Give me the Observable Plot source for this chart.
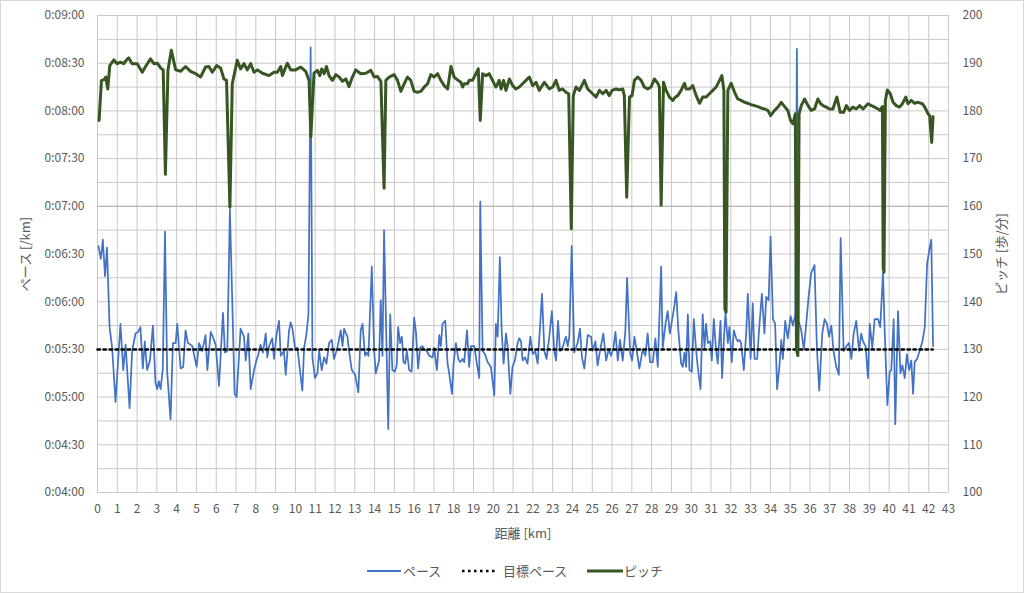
<!DOCTYPE html>
<html><head><meta charset="utf-8">
<script src="https://cdn.jsdelivr.net/npm/d3@7"></script>
<script src="https://cdn.jsdelivr.net/npm/@observablehq/plot@0.6"></script>
<style>
body{margin:0;background:#fff;}
#wrap{position:relative;width:1024px;height:593px;font-family:"Noto Sans CJK JP","Noto Sans",sans-serif;color:#595959;overflow:hidden;background:#fff;}
#chart{position:absolute;left:0;top:0;}
#border{position:absolute;left:0;top:0;width:1024px;height:593px;box-sizing:border-box;border:1px solid #d9d9d9;pointer-events:none;}
.lg{position:absolute;top:561px;height:20px;line-height:20px;font-size:13px;color:#595959;white-space:nowrap;}
.lg svg{display:block;}
</style>
</head><body>
<div id="wrap">
  <div id="chart"></div>
  <div class="lg" style="left:367px"><svg width="34" height="20"><line x1="0" y1="10" x2="34" y2="10" stroke="#4472C4" stroke-width="2"/></svg></div>
  <div class="lg" style="left:403px">ペース</div>
  <div class="lg" style="left:461px"><svg width="36" height="20"><line x1="1" y1="10" x2="35" y2="10" stroke="#000" stroke-width="2.5" stroke-dasharray="2.5,3.5"/></svg></div>
  <div class="lg" style="left:503px">目標ペース</div>
  <div class="lg" style="left:587px"><svg width="36" height="20"><line x1="0" y1="10" x2="36" y2="10" stroke="#375623" stroke-width="3"/></svg></div>
  <div class="lg" style="left:624px">ピッチ</div>
  <div id="border"></div>
</div>
<script>
// ---- data (distance km, pace in seconds per km) ----
const paceKm = [0.05,0.17,0.27,0.38,0.48,0.61,0.74,0.91,1.16,1.30,1.42,1.62,1.75,1.92,2.05,2.17,2.29,2.39,2.51,2.65,2.80,2.93,3.02,3.10,3.19,3.30,3.41,3.52,3.69,3.81,3.95,4.03,4.20,4.33,4.45,4.57,4.70,4.79,5.01,5.13,5.29,5.46,5.55,5.72,5.85,5.97,6.14,6.34,6.44,6.56,6.69,6.93,7.03,7.23,7.40,7.49,7.62,7.74,7.91,8.03,8.13,8.24,8.36,8.50,8.58,8.67,8.83,8.92,9.04,9.17,9.26,9.42,9.51,9.68,9.76,9.85,9.98,10.10,10.22,10.35,10.44,10.55,10.66,10.77,10.86,10.99,11.11,11.20,11.33,11.45,11.57,11.70,11.84,11.95,12.12,12.29,12.38,12.46,12.63,12.71,12.85,13.02,13.18,13.30,13.39,13.52,13.59,13.69,13.86,13.98,14.06,14.23,14.31,14.40,14.48,14.69,14.79,14.90,15.02,15.12,15.19,15.29,15.38,15.46,15.55,15.63,15.75,15.87,16.00,16.09,16.20,16.30,16.42,16.51,16.64,16.76,16.93,17.01,17.15,17.27,17.35,17.43,17.57,17.69,17.77,17.91,17.99,18.11,18.23,18.33,18.45,18.53,18.67,18.78,18.87,19.04,19.17,19.29,19.34,19.46,19.58,19.71,19.88,20.05,20.13,20.22,20.33,20.42,20.52,20.64,20.72,20.86,20.97,21.09,21.23,21.31,21.40,21.48,21.60,21.73,21.87,21.99,22.12,22.24,22.36,22.46,22.58,22.69,22.83,22.96,23.08,23.17,23.27,23.37,23.47,23.59,23.67,23.76,23.84,23.96,24.09,24.26,24.38,24.48,24.60,24.77,24.94,25.02,25.16,25.27,25.39,25.56,25.70,25.83,25.95,26.07,26.17,26.29,26.40,26.54,26.67,26.76,26.91,27.01,27.13,27.25,27.38,27.55,27.68,27.80,27.92,28.06,28.19,28.31,28.48,28.56,28.70,28.81,28.92,29.12,29.24,29.35,29.49,29.57,29.66,29.74,29.83,29.91,30.03,30.13,30.25,30.33,30.47,30.58,30.67,30.75,30.84,30.96,31.04,31.14,31.26,31.34,31.48,31.56,31.65,31.73,31.85,31.93,32.05,32.15,32.27,32.35,32.44,32.52,32.66,32.78,32.86,33.00,33.11,33.20,33.33,33.45,33.57,33.70,33.79,33.91,34.01,34.13,34.24,34.34,34.46,34.55,34.63,34.75,34.88,35.02,35.14,35.26,35.34,35.42,35.56,35.69,35.81,35.93,36.06,36.23,36.35,36.47,36.62,36.74,36.86,36.96,37.08,37.19,37.33,37.46,37.55,37.70,37.84,37.97,38.09,38.21,38.34,38.48,38.59,38.68,38.81,38.93,39.02,39.15,39.27,39.44,39.55,39.69,39.77,39.91,40.03,40.11,40.23,40.31,40.45,40.57,40.67,40.79,40.90,41.01,41.12,41.21,41.29,41.41,41.54,41.68,41.80,41.92,42.05,42.13,42.22];
const paceSec = [395,387,399,376,394,344,331,297,346,317,333,293,329,340,341,344,318,335,317,323,345,309,305,310,305,318,404,316,286,334,334,346,318,319,342,334,333,332,319,334,329,339,317,341,337,333,307,353,328,329,418,302,300,343,338,323,340,305,317,323,327,333,328,340,325,332,337,324,339,348,326,329,314,342,347,343,331,331,318,304,331,339,352,520,325,312,315,329,317,325,321,334,336,324,331,342,332,343,338,329,317,314,303,342,346,326,328,326,382,329,315,323,361,326,405,280,352,317,316,320,344,334,338,322,321,329,317,316,350,341,318,331,332,330,329,326,325,331,317,339,332,346,348,321,315,302,321,334,324,322,324,322,342,319,332,332,321,312,423,329,327,322,319,301,346,338,388,342,321,340,332,302,319,323,334,337,335,323,325,321,338,327,329,321,344,365,329,324,338,354,329,323,348,329,330,335,338,332,338,395,328,334,343,325,318,339,338,329,335,320,329,340,323,330,326,331,341,323,336,323,341,375,328,323,338,329,318,330,326,340,322,322,337,319,382,331,346,354,340,355,366,342,321,319,328,319,352,317,316,349,329,319,305,352,331,346,334,335,323,349,329,321,348,312,336,353,334,344,322,342,337,335,336,334,317,341,365,324,359,324,324,346,365,340,363,361,401,349,346,305,320,336,324,348,337,351,345,352,519,348,342,330,346,363,378,383,331,304,340,349,346,338,345,329,319,314,400,329,332,334,324,340,348,329,340,335,332,312,346,331,349,349,344,378,344,295,316,317,349,283,354,315,320,312,327,317,323,302,322,324,329,335,344,384,394,399,332];

// ---- data (distance km, pitch steps per minute) ----
const pitchKm = [0.08,0.20,0.32,0.42,0.52,0.62,0.83,0.99,1.16,1.33,1.47,1.58,1.75,2.01,2.26,2.43,2.68,2.85,3.02,3.19,3.32,3.43,3.56,3.73,3.95,4.20,4.45,4.70,4.96,5.21,5.46,5.63,5.80,6.02,6.22,6.39,6.52,6.69,6.81,7.06,7.23,7.40,7.57,7.74,7.91,8.08,8.33,8.67,8.92,9.09,9.26,9.34,9.59,9.76,10.01,10.27,10.52,10.69,10.78,10.94,11.11,11.23,11.33,11.45,11.57,11.70,11.87,12.04,12.21,12.38,12.55,12.71,12.88,13.05,13.30,13.56,13.81,13.98,14.15,14.32,14.48,14.57,14.74,14.99,15.16,15.33,15.50,15.66,15.83,16.00,16.17,16.34,16.51,16.68,16.84,17.01,17.18,17.35,17.52,17.69,17.86,18.02,18.19,18.36,18.45,18.53,18.70,18.78,18.95,19.12,19.24,19.34,19.46,19.63,19.79,19.96,20.13,20.30,20.39,20.52,20.64,20.81,20.98,21.14,21.31,21.48,21.65,21.82,21.99,22.16,22.32,22.58,22.83,23.00,23.17,23.33,23.50,23.67,23.81,23.94,24.04,24.18,24.35,24.60,24.77,25.02,25.19,25.36,25.53,25.70,25.86,26.00,26.20,26.37,26.54,26.62,26.74,26.88,27.01,27.13,27.30,27.47,27.63,27.80,27.97,28.14,28.31,28.39,28.48,28.60,28.73,28.90,29.07,29.20,29.32,29.49,29.66,29.74,29.91,30.08,30.25,30.42,30.58,30.75,30.92,31.09,31.26,31.43,31.55,31.65,31.70,31.76,31.85,32.02,32.19,32.35,32.52,32.69,32.86,33.03,33.20,33.37,33.54,33.70,33.87,34.01,34.21,34.38,34.55,34.72,34.88,35.02,35.14,35.26,35.32,35.39,35.45,35.56,35.73,35.90,36.06,36.23,36.40,36.54,36.66,36.82,36.99,37.16,37.36,37.53,37.70,37.84,38.00,38.17,38.34,38.51,38.68,38.93,39.10,39.27,39.44,39.55,39.66,39.70,39.74,39.81,39.91,40.06,40.20,40.36,40.53,40.67,40.84,40.95,41.12,41.29,41.46,41.68,41.80,41.97,42.05,42.15,42.22];
const pitchSpm = [178,186.4,186.5,187.1,184.6,189.5,190.7,189.9,190.2,189.9,190.7,191.1,189.9,189.9,188.1,189.3,190.9,189.9,190,189,188.6,166.7,188.5,192.7,188.6,188.3,189.3,188.3,187.8,187.1,189.2,189.3,188.1,189.5,189,186.7,186.4,159.8,185.7,190.6,188.8,189.9,188.6,189.9,188.1,188.6,187.9,187.4,188.1,188.1,189.3,187.4,190,188.6,188.6,189.2,188.3,186.4,174.6,187.9,188.5,187.4,188.8,187.8,189.3,187.4,186.4,187.6,187.1,186.2,186.7,185.1,187.1,188.6,187.8,187.9,188.5,187.1,187.2,186.2,163.8,186.4,187.1,187.6,186.4,184.1,185.7,187.1,186.4,184.1,183.9,184.1,185,185.7,187.6,187.1,187.8,186.4,185.3,184.6,189.3,187.1,186.5,186,185,185.7,185.7,186.4,186.4,187.8,188.8,178,187.8,187.4,187.8,186.4,185,186.4,184.6,186.4,184.3,186.7,185.3,184.6,185,185.7,186.4,187.1,185.3,186,184.3,186,184.6,185,186.4,184.3,184.6,183.9,183.6,155.3,183.2,185,184.3,186.4,184.6,183.6,182.9,184.3,183.6,184.3,183.2,184.3,184.6,184.4,184.6,183.2,161.9,182.9,183.2,186.4,187.1,186.4,185,184.6,185,186.7,185.8,185,160.2,186,184.3,182.9,182.2,182.9,183.2,184.3,185.8,184.6,184.6,185.3,183.2,181.6,182.9,182.9,183.6,184.3,185,186.4,187.4,184.3,138.5,137.8,184.3,185.8,183.9,182.5,182.2,181.8,181.6,181.3,181.1,180.9,180.6,180.4,180.1,179,180.1,180.8,181.8,180.9,180.1,178,177.3,179.4,130,128.7,179.4,181.1,182.5,181.1,180.1,180.4,182.5,181.5,181.1,180.8,180.4,180.4,182.9,179.7,179.7,181.1,180.1,180.8,180.4,181.1,180.4,181.5,181.1,180.8,180.4,180.1,180.9,147,146.2,182.2,184.4,183.6,181.8,181.1,180.8,181.5,182.9,181.5,182.2,181.6,181.8,181.5,180.8,179.4,179,173.4,178.8];

// ---- target pace (5:30 /km) ----
const targetKm = [0, 42.2];
const targetSec = [330, 330];

// ---- ticks ----
const xTicks = d3.range(0, 44);
const paceTicks = [240, 270, 300, 330, 360, 390, 420, 450, 480, 510, 540];
const pitchTicks = [100, 110, 120, 130, 140, 150, 160, 170, 180, 190, 200];
const gridSec = d3.range(240, 541, 15);

// pitch (100-200) shares the pace scale (240-540 s)
const pitchToSec = p => 240 + (p - 100) * 3;
const secToPitch = s => 100 + (s - 240) / 3;
const fmtPace = s => `0:${String(Math.floor(s / 60)).padStart(2, "0")}:${String(s % 60).padStart(2, "0")}`;

const pace = paceKm.map((km, i) => ({km, sec: paceSec[i]}));
const pitch = pitchKm.map((km, i) => ({km, spm: pitchSpm[i]}));
const target = targetKm.map((km, i) => ({km, sec: targetSec[i]}));

const font = '"Noto Sans CJK JP","Noto Sans",sans-serif';
const chart = Plot.plot({
  width: 1024,
  height: 560,
  marginTop: 15,
  marginBottom: 68,
  marginLeft: 97,
  marginRight: 76,
  x: {domain: [0, 43]},
  y: {domain: [240, 540]},
  style: {fontFamily: font, fontSize: "12px", color: "#595959", background: "transparent", overflow: "visible"},
  marks: [
    Plot.gridX(xTicks, {stroke: "#c8c8c8", strokeOpacity: 1}),
    Plot.gridY(gridSec, {stroke: "#c8c8c8", strokeOpacity: 1}),
    Plot.gridY([420], {stroke: "#b0b0b0", strokeOpacity: 1}),
    Plot.axisX(xTicks, {tickSize: 0, tickPadding: 12, tickFormat: d => String(d), label: null, fill: "#595959"}),
    Plot.axisX({ticks: [], label: "距離 [km]", labelAnchor: "center", labelOffset: 45, labelArrow: "none", fontSize: 13, fill: "#595959"}),
    Plot.axisY(paceTicks, {anchor: "left", tickSize: 0, tickPadding: 13, tickFormat: fmtPace, label: null, fill: "#595959"}),
    Plot.axisY({anchor: "left", ticks: [], label: "ペース [/km]", labelAnchor: "center", labelOffset: 77, labelArrow: "none", fontSize: 13, fill: "#595959"}),
    Plot.axisY(pitchTicks.map(pitchToSec), {anchor: "right", tickSize: 0, tickPadding: 14, tickFormat: s => String(secToPitch(s)), label: null, fill: "#595959"}),
    Plot.axisY({anchor: "right", ticks: [], label: "ピッチ [歩/分]", labelAnchor: "center", labelOffset: 57, labelArrow: "none", fontSize: 13, fill: "#595959"}),
    Plot.line(pace, {x: "km", y: "sec", stroke: "#4472C4", strokeWidth: 1.75, strokeLinejoin: "round"}),
    Plot.line(target, {x: "km", y: "sec", stroke: "#000000", strokeWidth: 2.5, strokeDasharray: "2.5,3.5"}),
    Plot.line(pitch, {x: "km", y: d => pitchToSec(d.spm), stroke: "#375623", strokeWidth: 3, strokeLinejoin: "round"})
  ]
});
document.getElementById("chart").appendChild(chart);
</script>
</body></html>
